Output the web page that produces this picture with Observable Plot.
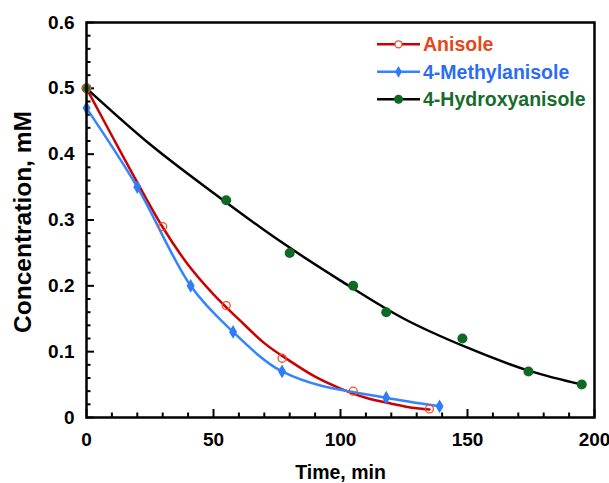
<!DOCTYPE html>
<html>
<head>
<meta charset="utf-8">
<script src="https://cdn.jsdelivr.net/npm/d3@7"></script>
<script src="https://cdn.jsdelivr.net/npm/@observablehq/plot@0.6"></script>
<style>
  html, body { margin: 0; padding: 0; background: #fff; }
  #chart { position: relative; width: 609px; height: 483px; overflow: hidden; }
  svg { font-family: "Liberation Sans", Arial, sans-serif; }
</style>
</head>
<body>
<div id="chart"></div>
<script>
// ---- data ----
const seriesNames = ["Anisole", "4-Methylanisole", "4-Hydroxyanisole"];

const timeAnisole = [0, 30, 55, 77, 105, 135];
const concAnisole = [0.5, 0.29, 0.17, 0.09, 0.04, 0.013];

const timeMethyl = [0, 20, 41, 57.7, 77, 118, 139];
const concMethyl = [0.47, 0.35, 0.2, 0.13, 0.07, 0.03, 0.017];

const timeHydroxy = [0, 55, 80, 105, 118, 148, 174, 195];
const concHydroxy = [0.5, 0.33, 0.25, 0.2, 0.16, 0.12, 0.07, 0.05];

// fitted curves
const fitAnisoleT = [0, 10, 20, 30, 40, 50, 60, 70, 80, 90, 100, 110, 120, 130, 135];
const fitAnisoleC = [0.5, 0.428, 0.357, 0.289, 0.232, 0.187, 0.149, 0.113, 0.086, 0.062, 0.044, 0.030, 0.021, 0.014, 0.012];

const fitHydroxyT = [0, 25, 50, 75, 100, 125, 150, 175, 195];
const fitHydroxyC = [0.5, 0.415, 0.341, 0.271, 0.208, 0.150, 0.106, 0.070, 0.050];

const xMajorTicks = [0, 50, 100, 150, 200];
const xMinorTicks = [10, 20, 30, 40, 60, 70, 80, 90, 110, 120, 130, 140, 160, 170, 180, 190];
const yMajorTicks = [0, 0.1, 0.2, 0.3, 0.4, 0.5, 0.6];
const yMinorTicks = [0.02,0.04,0.06,0.08,0.12,0.14,0.16,0.18,0.22,0.24,0.26,0.28,0.32,0.34,0.36,0.38,0.42,0.44,0.46,0.48,0.52,0.54,0.56,0.58];

const xTitle = "Time, min";
const yTitle = "Concentration, mM";

const colors = {
  anisoleLine: "#cc0000", anisoleMark: "#e8502a", anisoleText: "#e2481a",
  methylLine: "#3385ff", methylMark: "#2f7cf6", methylText: "#2b6cf6",
  hydroxyLine: "#000000", hydroxyMark: "#0d6a24", hydroxyText: "#176b2c"
};

const zip = (xs, ys) => xs.map((x, i) => ({x, y: ys[i]}));
const anisolePts = zip(timeAnisole, concAnisole);
const methylPts = zip(timeMethyl, concMethyl);
const hydroxyPts = zip(timeHydroxy, concHydroxy);
const anisoleFit = zip(fitAnisoleT, fitAnisoleC);
const hydroxyFit = zip(fitHydroxyT, fitHydroxyC);

const W = 609, H = 483, ML = 86, MR = 15, MT = 22, MB = 66;
const plotW = W - ML - MR, plotH = H - MT - MB;
const font = 19;

const plot = Plot.plot({
  width: W,
  height: H,
  marginLeft: ML,
  marginRight: MR,
  marginTop: MT,
  marginBottom: MB,
  style: {fontFamily: "'Liberation Sans', Arial, sans-serif", fontWeight: "bold", fontSize: font + "px", color: "#000", background: "#fff"},
  x: {domain: [0, 200]},
  y: {domain: [0, 0.6]},
  marks: [
    // inward ticks
    Plot.tickX(xMajorTicks, {x: d => d, insetTop: plotH - 8, stroke: "#000", strokeWidth: 2}),
    Plot.tickX(xMinorTicks, {x: d => d, insetTop: plotH - 4.5, stroke: "#000", strokeWidth: 2}),
    Plot.tickY(yMajorTicks, {y: d => d, insetRight: plotW - 8, stroke: "#000", strokeWidth: 2}),
    Plot.tickY(yMinorTicks, {y: d => d, insetRight: plotW - 4.5, stroke: "#000", strokeWidth: 2}),
    // tick labels
    Plot.axisX(xMajorTicks, {anchor: "bottom", tickSize: 0, tickPadding: 15, tickFormat: d => String(d), label: null, fontSize: font, fontWeight: "bold"}),
    Plot.axisY(yMajorTicks, {anchor: "left", tickSize: 0, tickPadding: 12, tickFormat: d => d === 0 ? "0" : d.toFixed(1), label: null, fontSize: font, fontWeight: "bold"}),
    // titles
    Plot.text([xTitle], {frameAnchor: "bottom", textAnchor: "middle", dy: 61, fontSize: 19.5, fontWeight: "bold", fill: "#000"}),
    Plot.text([yTitle], {frameAnchor: "left", textAnchor: "middle", dx: -63, dy: 2, rotate: -90, fontSize: 24.5, fontWeight: "bold", fill: "#000"}),
    // curves
    Plot.line(hydroxyFit, {x: "x", y: "y", stroke: colors.hydroxyLine, strokeWidth: 2.5, curve: "monotone-x"}),
    Plot.line(anisoleFit, {x: "x", y: "y", stroke: colors.anisoleLine, strokeWidth: 2.5, curve: "monotone-x"}),
    Plot.line(methylPts, {x: "x", y: "y", stroke: colors.methylLine, strokeWidth: 2.5, curve: "monotone-x"}),
    // markers
    Plot.dot(hydroxyPts, {x: "x", y: "y", r: 5, fill: colors.hydroxyMark, stroke: "none"}),
    Plot.dot(anisolePts, {x: "x", y: "y", r: 4, fill: "white", fillOpacity: 0, stroke: colors.anisoleMark, strokeWidth: 1.3}),
    Plot.dot(methylPts, {x: "x", y: "y", r: 4.2, symbol: "diamond", fill: colors.methylMark, stroke: "none"}),
    Plot.frame({stroke: "#000", strokeWidth: 2.5})
  ]
});

document.getElementById("chart").appendChild(plot);

// legend drawn inside the plot area
const svg = d3.select(plot);
const legend = svg.append("g").attr("class", "legend").attr("text-anchor", "start");
const legendItems = [
  {name: seriesNames[0], line: colors.anisoleLine, mark: colors.anisoleMark, text: colors.anisoleText, kind: "circle"},
  {name: seriesNames[1], line: colors.methylLine, mark: colors.methylMark, text: colors.methylText, kind: "diamond"},
  {name: seriesNames[2], line: colors.hydroxyLine, mark: colors.hydroxyMark, text: colors.hydroxyText, kind: "dot"}
];
legendItems.forEach((it, i) => {
  const cy = 44.3 + i * 27.5;
  const g = legend.append("g");
  g.append("line").attr("x1", 377).attr("x2", 420).attr("y1", cy).attr("y2", cy)
    .attr("stroke", it.line).attr("stroke-width", 2.5);
  if (it.kind === "circle") {
    g.append("circle").attr("cx", 398.5).attr("cy", cy).attr("r", 3.5)
      .attr("fill", "white").attr("stroke", it.mark).attr("stroke-width", 1.3);
  } else if (it.kind === "diamond") {
    g.append("path").attr("transform", `translate(398.5,${cy})`)
      .attr("d", d3.symbol(d3.symbolDiamond, 40)()).attr("fill", it.mark);
  } else {
    g.append("circle").attr("cx", 398.5).attr("cy", cy).attr("r", 4.5).attr("fill", it.mark);
  }
  g.append("text").attr("x", 423).attr("y", cy).attr("dy", "0.36em")
    .attr("text-anchor", "start")
    .attr("fill", it.text).attr("font-size", 19.5).attr("font-weight", "bold")
    .attr("font-family", "'Liberation Sans', Arial, sans-serif")
    .text(it.name);
});
</script>
</body>
</html>
